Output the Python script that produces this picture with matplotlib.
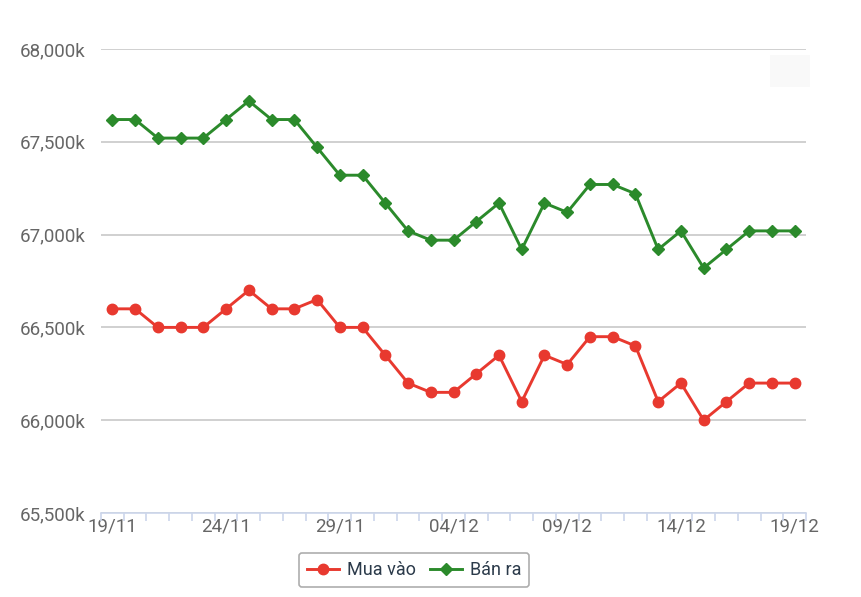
import matplotlib
matplotlib.use("Agg")
import matplotlib.pyplot as plt
from matplotlib.patches import Rectangle
from matplotlib.ticker import FuncFormatter, FixedLocator

dates = ["19/11", "20/11", "21/11", "22/11", "23/11", "24/11", "25/11", "26/11",
         "27/11", "28/11", "29/11", "30/11", "01/12", "02/12", "03/12", "04/12",
         "05/12", "06/12", "07/12", "08/12", "09/12", "10/12", "11/12", "12/12",
         "13/12", "14/12", "15/12", "16/12", "17/12", "18/12", "19/12"]
mua_vao = [66600, 66600, 66500, 66500, 66500, 66600, 66700, 66600, 66600, 66650,
           66500, 66500, 66350, 66200, 66150, 66150, 66250, 66350, 66100, 66350,
           66300, 66450, 66450, 66400, 66100, 66200, 66000, 66100, 66200, 66200, 66200]
ban_ra = [67620, 67620, 67520, 67520, 67520, 67620, 67720, 67620, 67620, 67470,
          67320, 67320, 67170, 67020, 66970, 66970, 67070, 67170, 66920, 67170,
          67120, 67270, 67270, 67220, 66920, 67020, 66820, 66920, 67020, 67020, 67020]
y_ticks = [65500, 66000, 66500, 67000, 67500, 68000]

plt.rcParams['font.family'] = ['Roboto', 'DejaVu Sans']

W, H = 861, 597
fig = plt.figure(figsize=(W / 100, H / 100), dpi=100)
ax = fig.add_axes([101 / W, (H - 513) / H, (806 - 101) / W, (513 - 49) / H])

x = list(range(len(dates)))
red = "#e8392f"
green = "#2b8a2b"
ax.plot(x, mua_vao, color=red, lw=2.1, marker="o", ms=7.5, label="Mua vào", zorder=3)
ax.plot(x, ban_ra, color=green, lw=2.1, marker="D", ms=6.5, label="Bán ra", zorder=3)

ax.set_xlim(-0.5, len(dates) - 0.5)
ax.set_ylim(65500, 68000)
ax.set_yticks(y_ticks)
ax.yaxis.set_major_formatter(FuncFormatter(lambda v, p: f"{int(v):,}k"))
ax.grid(axis="y", color="#c8c8c8", lw=1.2)
ax.set_axisbelow(True)

label_idx = list(range(0, len(dates), 5))
ax.set_xticks(label_idx)
ax.set_xticklabels([dates[i] for i in label_idx])
ax.xaxis.set_minor_locator(FixedLocator([i - 0.5 for i in range(len(dates) + 1)]))
ax.tick_params(axis="x", which="major", length=0, pad=3, labelsize=13.5, labelcolor="#666666")
ax.tick_params(axis="x", which="minor", length=6, width=1.2, color="#ccd6eb", direction="out")
ax.tick_params(axis="y", length=0, pad=11, labelsize=13.5, labelcolor="#666666")

for s in ["top", "right", "left"]:
    ax.spines[s].set_visible(False)
ax.spines["bottom"].set_color("#ccd6eb")
ax.spines["bottom"].set_linewidth(1.2)

leg = fig.legend(loc="center", bbox_to_anchor=(414 / W, (H - 570) / H), ncol=2,
                 frameon=True, fontsize=13, handlelength=1.8, columnspacing=0.8,
                 handletextpad=0.4, borderpad=0.45, fancybox=True)
leg.get_frame().set_edgecolor("#999999")
leg.get_frame().set_linewidth(1.2)
for t in leg.get_texts():
    t.set_color("#2b3a4a")

fig.patches.append(Rectangle((770 / W, (H - 87) / H), 40 / W, 32 / H,
                             transform=fig.transFigure, facecolor="#f9f9f9",
                             edgecolor="none", zorder=0))

fig.savefig("out.png", dpi=100)
